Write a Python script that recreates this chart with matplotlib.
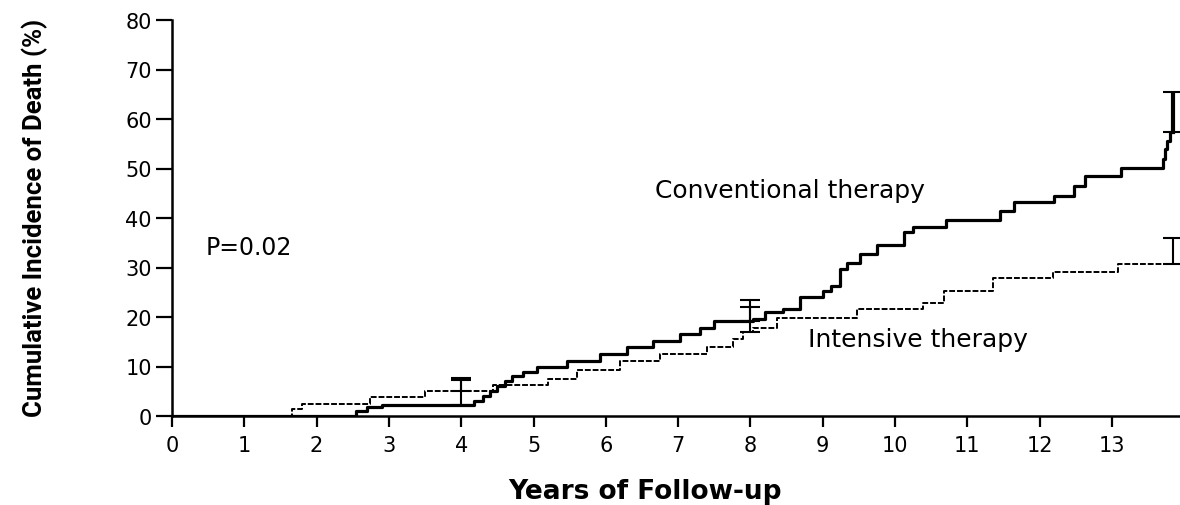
import numpy as np
import matplotlib
matplotlib.use("Agg")
import matplotlib.pyplot as plt

# cumulative incidence of death, step curves (years, percent)
conv_years = [0, 2.55, 2.7, 2.9, 4.17, 4.3, 4.4, 4.5, 4.6, 4.7, 4.85, 5.05, 5.46,
              5.92, 6.29, 6.65, 7.03, 7.3, 7.5, 8.04, 8.2, 8.45, 8.69, 9.0, 9.12,
              9.24, 9.33, 9.52, 9.75, 10.13, 10.25, 10.71, 11.45, 11.64, 12.2,
              12.47, 12.62, 13.12, 13.7, 13.73, 13.76, 13.8, 13.85]
conv_pct = [0, 1.1, 1.8, 2.2, 3.1, 4.1, 5.1, 6.1, 7.0, 8.0, 8.8, 10.0, 11.2,
            12.5, 13.9, 15.2, 16.6, 17.8, 19.1, 19.6, 21.0, 21.6, 24.0, 25.2, 26.3,
            29.7, 31.0, 32.7, 34.5, 37.1, 38.1, 39.5, 41.5, 43.3, 44.5,
            46.5, 48.5, 50.2, 52.0, 54.0, 55.5, 57.3, 57.3]

int_years = [0, 1.66, 1.8, 2.74, 3.5, 4.44, 5.2, 5.6, 6.2, 6.75, 7.4, 7.76,
             7.9, 8.04, 8.36, 9.47, 10.39, 10.67, 11.36, 12.19, 13.08, 13.85]
int_pct = [0, 1.4, 2.5, 3.8, 5.1, 6.2, 7.5, 9.2, 11.2, 12.5, 13.9, 15.6,
           16.9, 17.7, 19.8, 21.6, 22.9, 25.3, 27.8, 29.0, 30.8, 30.8]

# upper confidence limits shown at selected follow-up times
bar_years = [4.0, 8.0, 13.85]
conv_upper = [7.6, 23.4, 65.5]
int_upper = [7.2, 22.1, 35.9]

x_ticks = list(range(0, 14))
y_ticks = list(range(0, 90, 10))


def value_at(years, pct, t):
    idx = np.searchsorted(years, t, side="right") - 1
    return pct[idx]


fig = plt.figure(figsize=(11.8, 5.06), dpi=100)
ax = fig.add_axes([172 / 1180, 89 / 506, 1008 / 1180, 396 / 506])

ax.step(conv_years, conv_pct, where="post", color="black", lw=2.3)
ax.step(int_years, int_pct, where="post", color="black", lw=1.4,
        linestyle=(0, (3, 1)))

for t, cu, iu in zip(bar_years, conv_upper, int_upper):
    cb = value_at(conv_years, conv_pct, t)
    ib = value_at(int_years, int_pct, t)
    lw = 3.0 if t > 13 else 1.5
    ax.errorbar([t], [cb], yerr=[[0], [cu - cb]], fmt="none", ecolor="black",
                elinewidth=lw, capsize=7, capthick=1.5)
    ax.errorbar([t], [ib], yerr=[[0], [iu - ib]], fmt="none", ecolor="black",
                elinewidth=1.5, capsize=7, capthick=1.5)

ax.set_xlim(0, 13.94)
ax.set_ylim(0, 80)
ax.set_xticks(x_ticks)
ax.set_yticks(y_ticks)
ax.tick_params(axis="both", direction="out", width=1.6, labelsize=15)
ax.tick_params(axis="x", length=8, pad=6)
ax.tick_params(axis="y", length=11.5, pad=3)
for side in ("top", "right"):
    ax.spines[side].set_visible(False)
for side in ("left", "bottom"):
    ax.spines[side].set_linewidth(1.8)
ax.spines["bottom"].set_clip_on(False)

ax.text(0.46, 34.1, "P=0.02", fontsize=17, va="center", ha="left")
ax.text(6.68, 45.6, "Conventional therapy", fontsize=18, va="center", ha="left")
ax.text(8.8, 15.6, "Intensive therapy", fontsize=18, va="center", ha="left")

fig.text(35 / 1180, 1 - 218 / 506, "Cumulative Incidence of Death (%)",
         rotation=90, ha="center", va="center", fontsize=18.5, fontweight="bold",
         family=["Roboto", "DejaVu Sans"])
fig.text(645 / 1180, 1 - 492 / 506, "Years of Follow-up", ha="center",
         va="center", fontsize=19, fontweight="bold")

fig.savefig("out.png", dpi=100)
